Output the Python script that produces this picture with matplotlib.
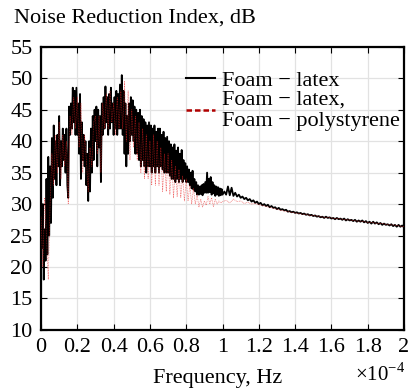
import numpy as np
import matplotlib.pyplot as plt
from matplotlib.lines import Line2D

plt.rcParams['font.family'] = ['Liberation Serif', 'DejaVu Serif']
plt.rcParams['mathtext.fontset'] = 'custom'
plt.rcParams['mathtext.rm'] = 'Liberation Serif'

# frequency in units of 10^4 Hz
# noisy part 0..1.0 step 0.005, then 1.01..2.00 step 0.01
latex_f_lo = np.round(np.arange(0, 201) * 0.005, 3)
latex_f_hi = np.round(1.0 + np.arange(1, 101) * 0.01, 3)
latex_f = np.concatenate([latex_f_lo, latex_f_hi])
latex_nri = [
    29, 23, 30, 18, 26, 21, 34, 22, 37.5, 25,
    36, 27, 40.5, 31, 42.5, 34, 40, 33, 41, 36,
    44, 33, 40, 36, 42, 37, 41, 35, 42, 33,
    31, 45.5, 41, 46, 42, 48.5, 43, 48, 41, 48.5,
    41, 46, 38, 47.5, 34, 43, 37, 41, 36, 40,
    33, 38, 30.5, 40, 32, 42, 35, 44, 37, 45,
    40, 45.5, 36, 45, 39, 44, 33.5, 46, 41, 47,
    42, 48.7, 43, 47, 41, 47.5, 42, 48.5, 43, 46,
    41, 47, 42, 48, 41, 47.5, 42, 49, 42, 50.5,
    41, 48, 38, 46, 36, 44, 38, 46, 40, 47,
    41, 46.5, 40, 45.5, 38, 45, 38, 44.5, 37, 45,
    36, 44, 37, 43.5, 36, 43, 35, 42.5, 36, 43,
    36, 42.5, 35, 42, 36, 42.5, 35, 41.5, 36, 42,
    35, 42, 36, 41, 35.5, 41.5, 35, 40.5, 35, 40.7,
    35, 40, 34.5, 39.5, 34, 39, 34, 39.5, 33.5, 38.5,
    34, 39, 33.5, 38, 34, 38.6, 33.5, 37, 34, 36.5,
    33.5, 36, 33.5, 35.5, 33, 35, 32.5, 35.3, 32.3, 34,
    32, 33.5, 31.5, 33, 31.5, 32.8, 31.6, 33, 31.4, 33.2,
    31.8, 33.5, 31.8, 35, 31.8, 34, 31.9, 34.3, 31.5, 33.5,
    31.7, 33, 31.3, 32.8, 31.5, 32.7, 31.3, 32.5, 31.4, 32.4,
    31.5,
    32.0, 31.5, 32.8, 31.4, 32.6, 31.3, 31.8, 31.2, 31.5, 31.0,
    31.2, 30.8, 31.0, 30.6, 30.8, 30.4, 30.6, 30.2, 30.4, 30.0,
    30.2, 29.8, 30.0, 29.7, 29.9, 29.5, 29.7, 29.4, 29.5, 29.2,
    29.4, 29.1, 29.2, 29.0, 29.1, 28.8, 28.9, 28.7, 28.8, 28.6,
    28.7, 28.5, 28.6, 28.4, 28.5, 28.3, 28.4, 28.2, 28.3, 28.1,
    28.2, 28.0, 28.1, 27.9, 28.0, 27.8, 28.0, 27.8, 27.9, 27.7,
    27.8, 27.6, 27.8, 27.6, 27.7, 27.5, 27.7, 27.4, 27.6, 27.4,
    27.5, 27.3, 27.5, 27.2, 27.4, 27.2, 27.4, 27.1, 27.3, 27.0,
    27.2, 26.9, 27.2, 26.9, 27.1, 26.8, 27.0, 26.7, 26.9, 26.7,
    26.8, 26.6, 26.8, 26.5, 26.7, 26.4, 26.7, 26.4, 26.6, 26.3,
]

# second series: 0..1.0 step 0.01, then 1.02..2.00 step 0.02
poly_f = np.concatenate([np.round(np.arange(0, 101) * 0.01, 3),
                         np.round(1.0 + np.arange(1, 51) * 0.02, 3)])
poly_nri = [
    28, 20, 31, 25, 18, 30, 38, 33, 41, 35,
    43, 34, 41, 36, 40, 30, 44, 41, 47, 42,
    47, 39, 46, 35, 41, 37, 32, 39, 36, 43,
    44, 38, 44, 35, 46, 42, 47.5, 42, 48, 43,
    46, 41, 47, 42, 48, 42, 49.5, 40, 48, 37,
    45, 39, 44, 37, 43, 35, 42, 34, 41, 34,
    40, 33, 41, 33, 40, 33, 39, 32, 38, 32,
    38, 31.5, 37, 31, 36, 31.2, 35.5, 31, 34.5, 30.5,
    34, 30.5, 33, 30, 32.5, 30, 31.5, 29.5, 30.8, 29.5,
    30.5, 29.8, 31.2, 30, 31, 29.6, 30.8, 30, 30.5, 30.2,
    30.4,
    30.6, 30.2, 30.8, 30.4, 30.5, 30.1, 30.3, 30.0, 30.1, 29.9,
    29.8, 29.6, 29.5, 29.3, 29.2, 29.0, 28.9, 28.8, 28.7, 28.6,
    28.5, 28.4, 28.4, 28.2, 28.2, 28.1, 28.0, 27.9, 27.9, 27.8,
    27.7, 27.7, 27.6, 27.5, 27.5, 27.4, 27.3, 27.3, 27.2, 27.1,
    27.1, 27.0, 26.9, 26.9, 26.8, 26.7, 26.7, 26.6, 26.5, 26.4,
]

x_ticks = [0, 0.2, 0.4, 0.6, 0.8, 1, 1.2, 1.4, 1.6, 1.8, 2]
x_ticklabels = ['0', '0.2', '0.4', '0.6', '0.8', '1', '1.2', '1.4', '1.6', '1.8', '2']
y_ticks = [10, 15, 20, 25, 30, 35, 40, 45, 50, 55]

fig = plt.figure(figsize=(4.11, 3.90), dpi=100)
ax = fig.add_axes([0.0998, 0.154, 0.8832, 0.726])

ax.plot(latex_f, latex_nri, color='black', lw=1.3, zorder=3)
ax.plot(poly_f, poly_nri, color='#e82020', lw=0.5, ls=(0, (1.2, 1.2)), alpha=0.7, zorder=4)

ax.set_xlim(0, 2)
ax.set_ylim(10, 55)
ax.set_xticks(x_ticks)
ax.set_xticklabels(x_ticklabels)
ax.set_yticks(y_ticks)
ax.grid(True, color='#e2e2e2', lw=0.9)
ax.set_axisbelow(True)
ax.tick_params(direction='in', top=True, right=True, length=4, width=0.8,
               labelsize=16, pad=6)
for s in ax.spines.values():
    s.set_linewidth(1.6)

handles = [Line2D([], [], color='black', lw=1.5),
           Line2D([], [], color='#b00000', lw=1.8, ls=(0, (2.2, 1.2)))]
ax.legend(handles, ['Foam \u2212 latex', 'Foam \u2212 latex,\nFoam \u2212 polystyrene'],
          loc='upper right', bbox_to_anchor=(1.025, 0.965), frameon=False, fontsize=16,
          handlelength=1.3, handletextpad=0.3, labelspacing=0.0, borderaxespad=0.2)

fig.text(0.034, 0.953, 'Noise Reduction Index, dB', fontsize=16, va='center', ha='left')
fig.text(0.53, 0.03, 'Frequency, Hz', fontsize=16, va='center', ha='center')
fig.text(0.985, 0.04, r'$\times$10$^{-4}$', fontsize=15, va='center', ha='right')

fig.savefig('out.png', dpi=100)
